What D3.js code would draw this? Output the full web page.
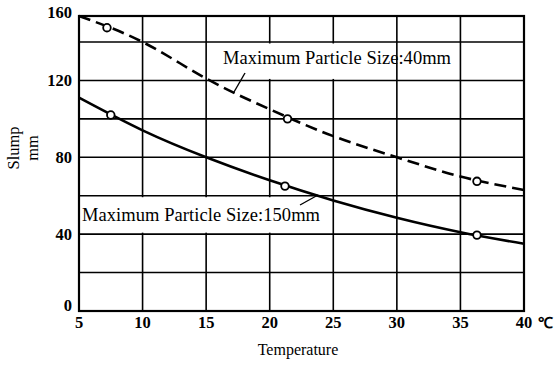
<!DOCTYPE html>
<html><head><meta charset="utf-8">
<script src="https://cdn.jsdelivr.net/npm/d3@7/dist/d3.min.js"></script>
<style>body{margin:0;background:#fff}svg{display:block}text{font-family:"Liberation Serif","Times New Roman",serif;fill:#000}</style>
</head><body><svg id="c" width="556" height="368"></svg>
<script>
const xTicks = [5,10,15,20,25,30,35,40];
const yTicks = [0,40,80,120,160];
const yGrid = [20,40,60,80,100,120,140];
const xLabel = "Temperature";
const yLabel1 = "Slump";
const yLabel2 = "mm";
const unitLabel = "℃";
// curve values
const solidT = [5,10,15,20,25,30,35,40];
const solidV = [111,94,80,68,57.5,48.5,41,35];
const dashT = [5,10,15,20,25,30,35,40];
const dashV = [160,140,121,105,91,80,70,63];
const solidMarkT = [7.5,21.2,36.3], solidMarkV=[102,65,39.5];
const dashMarkT = [7.2,21.4,36.3], dashMarkV=[151,100,67.5];
const label40 = "Maximum Particle Size:40mm";
const label150 = "Maximum Particle Size:150mm";

const svg = d3.select("#c");
const L=79,R=524,T=16,B=311;
const x = d3.scaleLinear().domain([5,40]).range([L,R]);
const y = d3.scaleLinear().domain([0,140,160]).range([B,42,T]);

const g = svg.append("g");
// grid
g.selectAll(".vg").data(xTicks.slice(1,-1)).enter().append("line")
 .attr("x1",d=>x(d)).attr("x2",d=>x(d)).attr("y1",T).attr("y2",B)
 .attr("stroke","#000").attr("stroke-width",1.6);
g.selectAll(".hg").data(yGrid).enter().append("line")
 .attr("x1",L).attr("x2",R).attr("y1",d=>y(d)).attr("y2",d=>y(d))
 .attr("stroke","#000").attr("stroke-width",1.6);

// label boxes (white background hiding grid)
g.append("rect").attr("x",x(16.9)).attr("y",y(140)+1.5).attr("width",x(29.8)-x(16.9)).attr("height",y(120)-y(140)-3).attr("fill","#fff");
g.append("rect").attr("x",L+1).attr("y",y(60)+1.5).attr("width",x(24.6)-L-1).attr("height",y(40)-y(60)-3).attr("fill","#fff");

// curves
const line = d3.line().x(d=>x(d[0])).y(d=>y(d[1])).curve(d3.curveNatural);
g.append("path").datum(solidT.map((t,i)=>[t,solidV[i]])).attr("d",line)
 .attr("fill","none").attr("stroke","#000").attr("stroke-width",2.6);
g.append("path").datum(dashT.map((t,i)=>[t,dashV[i]])).attr("d",line)
 .attr("fill","none").attr("stroke","#000").attr("stroke-width",2.6).attr("stroke-dasharray","12,6");

// markers
const marks = solidMarkT.map((t,i)=>[t,solidMarkV[i]]).concat(dashMarkT.map((t,i)=>[t,dashMarkV[i]]));
g.selectAll(".m").data(marks).enter().append("circle")
 .attr("cx",d=>x(d[0])).attr("cy",d=>y(d[1])).attr("r",3.8)
 .attr("fill","#fff").attr("stroke","#000").attr("stroke-width",1.8);

// frame
g.append("rect").attr("x",L).attr("y",T).attr("width",R-L).attr("height",B-T)
 .attr("fill","none").attr("stroke","#000").attr("stroke-width",2.2);

// labels on curves
g.append("text").attr("x",223).attr("y",64).attr("font-size",18.5).attr("textLength",228).text(label40);
g.append("line").attr("x1",245).attr("y1",73).attr("x2",234).attr("y2",92).attr("stroke","#000").attr("stroke-width",1.4);
g.append("text").attr("x",82).attr("y",221).attr("font-size",18.5).attr("textLength",238).text(label150);
g.append("line").attr("x1",300).attr("y1",205).attr("x2",318).attr("y2",195).attr("stroke","#000").attr("stroke-width",1.4);

// tick labels
g.selectAll(".xt").data(xTicks).enter().append("text")
 .attr("x",d=>x(d)).attr("y",328).attr("text-anchor","middle").attr("font-size",16.5).attr("font-weight","bold").text(d=>d);
g.append("text").attr("x",545).attr("y",328).attr("text-anchor","middle").attr("font-size",15).attr("font-weight","bold").text(unitLabel);
g.selectAll(".yt").data(yTicks).enter().append("text")
 .attr("x",72).attr("y",d=>d===0?B:(d===160?y(d)+2:y(d)+6)).attr("text-anchor","end").attr("font-size",16.5).attr("font-weight","bold").text(d=>d);

g.append("text").attr("x",298).attr("y",355).attr("text-anchor","middle").attr("font-size",16).text(xLabel);
g.append("text").attr("transform","translate(19,148) rotate(-90)").attr("text-anchor","middle").attr("font-size",16.5).text(yLabel1);
g.append("text").attr("transform","translate(38,148) rotate(-90)").attr("text-anchor","middle").attr("font-size",16.5).text(yLabel2);
</script></body></html>
